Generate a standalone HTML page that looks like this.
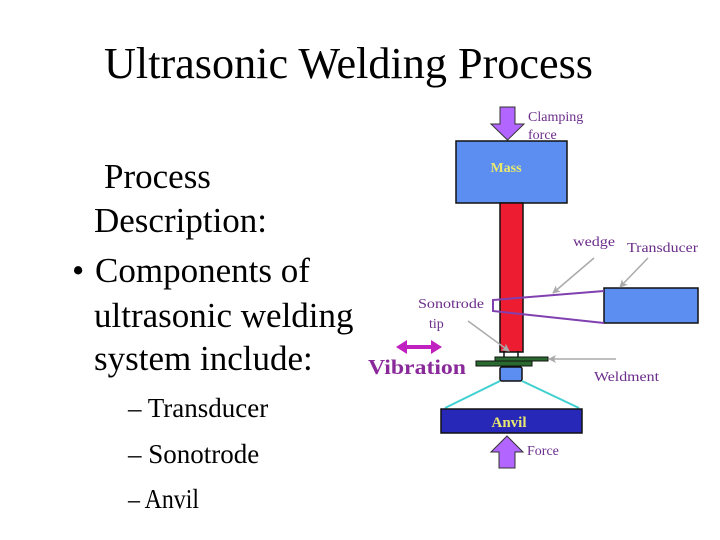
<!DOCTYPE html>
<html><head><meta charset="utf-8"><style>
html,body{margin:0;padding:0;background:#fff;}
svg{display:block;}
</style></head><body>
<svg width="720" height="540" viewBox="0 0 720 540" xmlns="http://www.w3.org/2000/svg" font-family="Liberation Serif, serif">
<defs>
<marker id="ga" markerWidth="8" markerHeight="8" refX="7" refY="4" orient="auto" markerUnits="userSpaceOnUse"><path d="M0,0 L8,4 L0,8 L2,4 z" fill="#aaa"/></marker>
</defs>
<text x="104" y="78" font-size="44" textLength="489" lengthAdjust="spacingAndGlyphs">Ultrasonic Welding Process</text>
<g font-size="35">
<text x="104" y="188">Process</text>
<text x="94" y="232">Description:</text>
<text x="72" y="282">•</text>
<text x="95" y="282">Components of</text>
<text x="94" y="327">ultrasonic welding</text>
<text x="94" y="370">system include:</text>
</g>
<g font-size="27">
<text x="128" y="417">– Transducer</text>
<text x="128" y="463">– Sonotrode</text>
<text x="128" y="508" textLength="71" lengthAdjust="spacingAndGlyphs">– Anvil</text>
</g>
<polygon points="500,107 515,107 515,124 524,124 507.5,140 491,124 500,124" fill="#b266ff" stroke="#333" stroke-width="1"/>
<g fill="#6b2d8a" font-size="14">
<text x="528" y="121">Clamping</text>
<text x="528" y="139">force</text>
</g>
<rect x="456" y="141" width="111" height="62" fill="#5b8ef0" stroke="#111" stroke-width="1.5"/>
<text x="506" y="172" font-size="14" font-weight="bold" fill="#e8e870" text-anchor="middle">Mass</text>
<rect x="500" y="203" width="23" height="149" fill="#ee1c30" stroke="#111" stroke-width="1.5"/>
<rect x="604" y="288" width="94" height="35" fill="#5b8ef0" stroke="#111" stroke-width="1.5"/>
<polyline points="604,291 493,300 493,311 604,323" fill="none" stroke="#8040b0" stroke-width="2"/>
<line x1="504" y1="351" x2="504" y2="357" stroke="#111" stroke-width="1.5"/>
<line x1="518" y1="351" x2="518" y2="357" stroke="#111" stroke-width="1.5"/>
<rect x="495" y="357" width="53" height="4" fill="#2a6a30" stroke="#111" stroke-width="1"/>
<rect x="476" y="361" width="56" height="5" fill="#2a6a30" stroke="#111" stroke-width="1"/>
<rect x="500" y="367" width="22" height="14" rx="2" fill="#5b8ef0" stroke="#111" stroke-width="1.5"/>
<line x1="500" y1="381" x2="445" y2="408" stroke="#40d0d0" stroke-width="2"/>
<line x1="522" y1="381" x2="579" y2="408" stroke="#40d0d0" stroke-width="2"/>
<rect x="441" y="409" width="141" height="24" fill="#2828b8" stroke="#111" stroke-width="1.5"/>
<text x="509" y="427" font-size="15" font-weight="bold" fill="#e8e870" text-anchor="middle">Anvil</text>
<polygon points="507,436 523,452 515,452 515,468 499,468 499,452 491,452" fill="#b266ff" stroke="#333" stroke-width="1"/>
<text x="527" y="455" font-size="14" fill="#6b2d8a">Force</text>
<g stroke="#aaa" stroke-width="1.5" fill="none" marker-end="url(#ga)">
<line x1="594" y1="258" x2="553" y2="293"/>
<line x1="648" y1="258" x2="620" y2="287"/>
<line x1="468" y1="321" x2="509" y2="351"/>
<line x1="616" y1="359" x2="549" y2="359"/>
</g>
<g fill="#6b2d8a" font-size="14">
<text x="573" y="246" textLength="42" lengthAdjust="spacingAndGlyphs">wedge</text>
<text x="627" y="252" textLength="71" lengthAdjust="spacingAndGlyphs">Transducer</text>
<text x="418" y="308" textLength="66" lengthAdjust="spacingAndGlyphs">Sonotrode</text>
<text x="429" y="328">tip</text>
<text x="594" y="381" textLength="65" lengthAdjust="spacingAndGlyphs">Weldment</text>
</g>
<line x1="404" y1="347" x2="434" y2="347" stroke="#c020c0" stroke-width="4"/>
<polygon points="396,347 407,340 407,354" fill="#c020c0"/>
<polygon points="442,347 431,340 431,354" fill="#c020c0"/>
<text x="368" y="374" font-size="21" font-weight="bold" fill="#8a2a9a" textLength="98" lengthAdjust="spacingAndGlyphs">Vibration</text>
</svg>
</body></html>
